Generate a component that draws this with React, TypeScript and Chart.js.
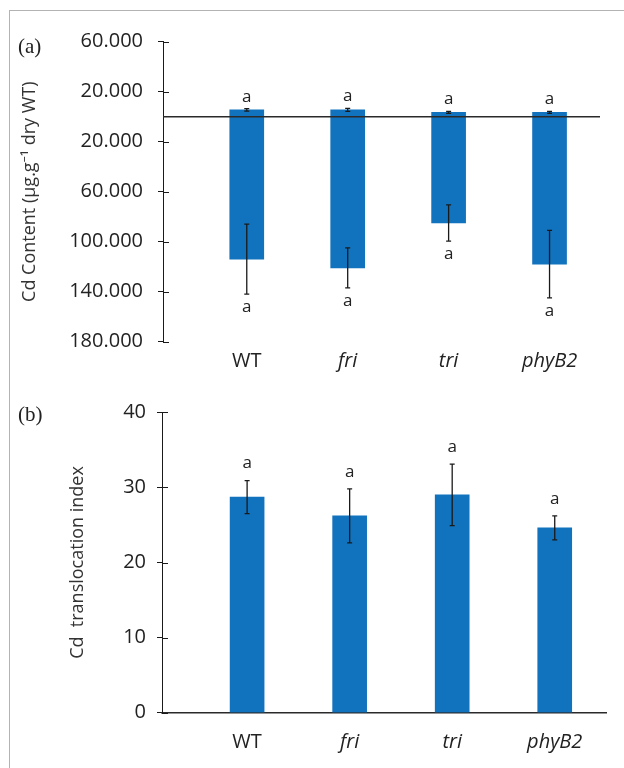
import React, { useEffect, useRef } from 'react';
import { Chart, registerables } from 'chart.js';

Chart.register(...registerables);

// ---------- data ----------
const categories = ['WT', 'fri', 'tri', 'phyB2'];

// panel (a): Cd content, shoot (up) and root (down, negative)
const shootCd = [5.4, 5.4, 3.5, 3.5];
const shootCdErr = [1.0, 1.2, 0.8, 0.8];
const shootLetters = ['a', 'a', 'a', 'a'];
const rootCd = [-114, -121, -85, -118];
const rootCdErr = [28, 16, 14.5, 27];
const rootLetters = ['a', 'a', 'a', 'a'];
const cdAxisMin = -180;
const cdAxisMax = 60;
const cdAxisStep = 40;

// panel (b): Cd translocation index
const translocation = [28.7, 26.2, 29.0, 24.6];
const translocationErr = [2.2, 3.6, 4.1, 1.6];
const translocationLetters = ['a', 'a', 'a', 'a'];
const tiAxisMin = 0;
const tiAxisMax = 40;
const tiAxisStep = 10;

// ---------- styles ----------
const BAR = '#1172BD';
const TEXT = '#222222';
const FONT = "'Open Sans', 'Noto Sans', sans-serif";

const errorBarPlugin = {
  id: 'errorBars',
  afterDatasetsDraw(chart: any) {
    const { ctx } = chart;
    const y = chart.scales.y;
    chart.data.datasets.forEach((ds: any, i: number) => {
      if (!ds.errors) return;
      const meta = chart.getDatasetMeta(i);
      meta.data.forEach((bar: any, j: number) => {
        const v = ds.data[j].y;
        const e = ds.errors[j];
        const x = bar.x;
        const y1 = y.getPixelForValue(v - e);
        const y2 = y.getPixelForValue(v + e);
        ctx.save();
        ctx.strokeStyle = '#1a1a1a';
        ctx.lineWidth = 1.3;
        ctx.beginPath();
        ctx.moveTo(x, y1);
        ctx.lineTo(x, y2);
        ctx.moveTo(x - 2.5, y1);
        ctx.lineTo(x + 2.5, y1);
        ctx.moveTo(x - 2.5, y2);
        ctx.lineTo(x + 2.5, y2);
        ctx.stroke();
        if (ds.letters) {
          const off = ds.letterOffset || 14;
          const ly = v >= 0 ? y.getPixelForValue(v + e) - off : y.getPixelForValue(v - e) + off;
          ctx.fillStyle = TEXT;
          ctx.font = `17px ${FONT}`;
          ctx.textAlign = 'center';
          ctx.textBaseline = 'middle';
          ctx.fillText(ds.letters[j], x, ly);
        }
        ctx.restore();
      });
    });
  },
};

const zeroLinePlugin = {
  id: 'zeroLine',
  afterDatasetsDraw(chart: any, _args: any, opts: any) {
    if (!opts || !opts.show) return;
    const { ctx, chartArea } = chart;
    const py = chart.scales.y.getPixelForValue(0);
    ctx.save();
    ctx.strokeStyle = '#2a2a2a';
    ctx.lineWidth = 1.5;
    ctx.beginPath();
    ctx.moveTo(chartArea.left, py);
    ctx.lineTo(chartArea.right, py);
    ctx.stroke();
    ctx.restore();
  },
};

const innerTicksPlugin = {
  id: 'innerTicks',
  afterDraw(chart: any) {
    const { ctx, chartArea } = chart;
    const y = chart.scales.y;
    ctx.save();
    ctx.strokeStyle = '#1a1a1a';
    ctx.lineWidth = 1;
    ctx.beginPath();
    y.ticks.forEach((t: any) => {
      const py = Math.round(y.getPixelForValue(t.value)) + 0.5;
      ctx.moveTo(chartArea.left, py);
      ctx.lineTo(chartArea.left + 6, py);
    });
    ctx.stroke();
    ctx.restore();
  },
};

function makeXScale(height: number, labelPad: number, showBorder: boolean) {
  return {
    type: 'linear',
    offset: false,
    min: 0.17,
    max: 4.5,
    afterBuildTicks: (scale: any) => {
      scale.ticks = categories.map((_, i) => ({ value: i + 1 }));
    },
    afterFit: (scale: any) => {
      scale.height = height;
    },
    grid: { display: false, drawTicks: false, offset: false },
    border: { display: showBorder, color: '#2a2a2a', width: 1.5 },
    ticks: {
      padding: labelPad,
      color: TEXT,
      autoSkip: false,
      maxRotation: 0,
      font: (c: any) => ({
        family: FONT,
        size: 20,
        style: c.tick && c.tick.value === 1 ? 'normal' : 'italic',
      }),
      callback: (v: any) => categories[Math.round(v) - 1] ?? '',
    },
  };
}

function makeYScale(
  min: number,
  max: number,
  step: number,
  width: number,
  labelPad: number,
  title: string,
  titlePad: number,
  fmt: (v: number) => string
) {
  return {
    min,
    max,
    afterFit: (scale: any) => {
      scale.width = width;
    },
    grid: {
      drawOnChartArea: false,
      drawTicks: true,
      tickLength: 5,
      tickColor: '#1a1a1a',
    },
    border: { display: true, color: '#1a1a1a', width: 1 },
    ticks: {
      stepSize: step,
      padding: labelPad,
      color: TEXT,
      font: { family: FONT, size: 20 },
      callback: (v: any) => fmt(Number(v)),
    },
    title: {
      display: true,
      text: title,
      color: '#333333',
      font: { family: FONT, size: 18 },
      padding: { top: titlePad, bottom: 0 },
    },
  };
}

function PanelA() {
  const ref = useRef<HTMLCanvasElement>(null);
  useEffect(() => {
    if (!ref.current) return;
    const chart = new Chart(ref.current, {
      type: 'bar',
      data: {
        datasets: [
          {
            data: shootCd.map((v, i) => ({ x: i + 1, y: v })),
            backgroundColor: BAR,
            barThickness: 34,
            grouped: false,
            errors: shootCdErr,
            letters: shootLetters,
            letterOffset: 12,
          } as any,
          {
            data: rootCd.map((v, i) => ({ x: i + 1, y: v })),
            backgroundColor: BAR,
            barThickness: 34,
            grouped: false,
            errors: rootCdErr,
            letters: rootLetters,
            letterOffset: 13,
          } as any,
        ],
      },
      options: {
        animation: false,
        responsive: false,
        layout: { padding: { left: 0, right: 24, top: 41.7, bottom: 0 } },
        plugins: {
          legend: { display: false },
          tooltip: { enabled: false },
          zeroLine: { show: true },
        } as any,
        scales: {
          x: makeXScale(38.3, 8, false) as any,
          y: makeYScale(
            cdAxisMin,
            cdAxisMax,
            cdAxisStep,
            163,
            15,
            'Cd Content (µg.g⁻¹ dry WT)',
            19.2,
            (v) => Math.abs(v).toFixed(3)
          ) as any,
        },
      },
      plugins: [zeroLinePlugin, errorBarPlugin, innerTicksPlugin],
    });
    return () => chart.destroy();
  }, []);
  return <canvas ref={ref} width={624} height={380} style={{ position: 'absolute', left: 0, top: 0 }} />;
}

function PanelB() {
  const ref = useRef<HTMLCanvasElement>(null);
  useEffect(() => {
    if (!ref.current) return;
    const chart = new Chart(ref.current, {
      type: 'bar',
      data: {
        datasets: [
          {
            data: translocation.map((v, i) => ({ x: i + 1, y: v })),
            backgroundColor: BAR,
            barThickness: 34,
            grouped: false,
            errors: translocationErr,
            letters: translocationLetters,
            letterOffset: 17,
          } as any,
        ],
      },
      options: {
        animation: false,
        responsive: false,
        layout: { padding: { left: 0, right: 18, top: 32.3, bottom: 0 } },
        plugins: {
          legend: { display: false },
          tooltip: { enabled: false },
        },
        scales: {
          x: makeXScale(55.3, 18, true) as any,
          y: makeYScale(
            tiAxisMin,
            tiAxisMax,
            tiAxisStep,
            162,
            11,
            'Cd  translocation index',
            67.2,
            (v) => String(v)
          ) as any,
        },
      },
      plugins: [errorBarPlugin, innerTicksPlugin],
    });
    return () => chart.destroy();
  }, []);
  return <canvas ref={ref} width={624} height={388} style={{ position: 'absolute', left: 0, top: 380 }} />;
}

export default function App() {
  const panelLabel: React.CSSProperties = {
    position: 'absolute',
    left: 18,
    fontFamily: "'Liberation Serif', 'DejaVu Serif', serif",
    fontSize: 21,
    lineHeight: '24px',
    color: '#222',
  };
  return (
    <div
      style={{
        position: 'fixed',
        left: 0,
        top: 0,
        width: 624,
        height: 768,
        overflow: 'hidden',
        background: '#fff',
      }}
    >
      <div
        style={{
          position: 'absolute',
          left: 9,
          top: 10,
          width: 700,
          height: 800,
          borderTop: '1.5px solid #b3b3b3',
          borderLeft: '1.5px solid #b3b3b3',
        }}
      />
      <PanelA />
      <PanelB />
      <div style={{ ...panelLabel, top: 34 }}>(a)</div>
      <div style={{ ...panelLabel, top: 402 }}>(b)</div>
    </div>
  );
}
